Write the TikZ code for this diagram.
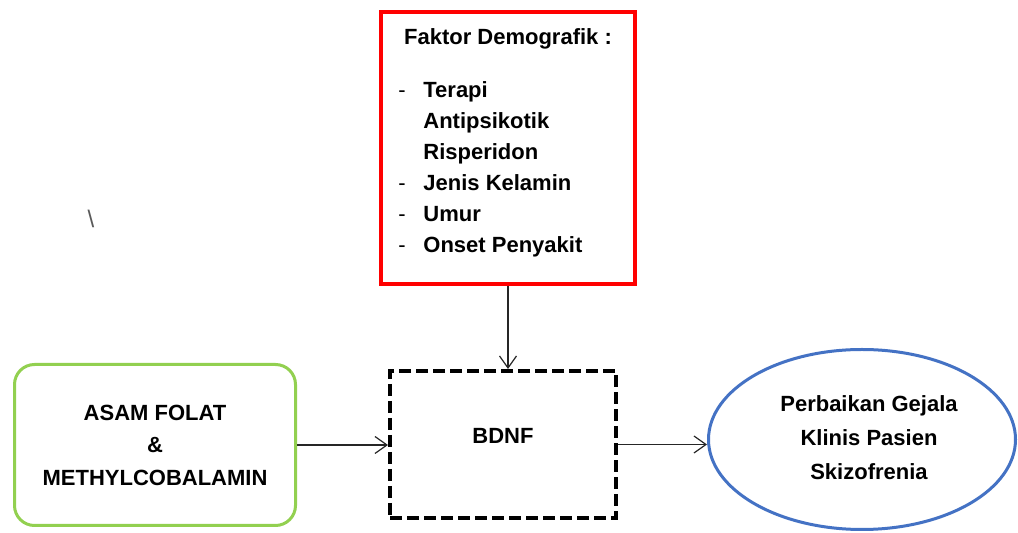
\documentclass[tikz,border=0pt]{standalone}
\usepackage{fontspec}
\setmainfont{Liberation Sans}
\usetikzlibrary{shapes.geometric,arrows.meta}
\definecolor{merah}{RGB}{255,0,0}
\definecolor{hijau}{RGB}{146,208,80}
\definecolor{biru}{RGB}{68,114,196}
\begin{document}
\begin{tikzpicture}
        [x=0.5pt, y=-0.5pt,
        kotakMerah/.style={rectangle, draw=merah, line width=2pt, minimum width=127pt, minimum height=136pt, inner sep=0pt},
        kotakHijau/.style={rectangle, rounded corners=10pt, draw=hijau, line width=1.5pt, minimum width=140.5pt, minimum height=80.5pt, align=center, font=\bfseries\fontsize{11}{16.25}\selectfont},
        kotakPutus/.style={rectangle, draw, line width=2pt, dash pattern=on 6pt off 2.5pt, minimum width=113pt, minimum height=73.5pt, inner sep=0pt},
        elips/.style={ellipse, draw=biru, line width=1.5pt, minimum width=153.5pt, minimum height=90pt, inner sep=0pt},
        teks/.style={font=\bfseries\fontsize{11}{15.5}\selectfont, inner sep=0pt},
        panah/.style={-{Straight Barb[length=6pt,width=8.5pt]}, line width=0.6pt, black!85}]
        \useasboundingbox (0,0) rectangle (1018,533);

        \node[kotakMerah] (faktor) at (508,148) {};
        \node[teks, anchor=base] (judul) at (508,45) {Faktor Demografik :};
        \node[teks, anchor=north west] (daftar) at (398,75.3) {%
            \begin{tabular}{@{}p{12.5pt}@{}l@{}}
            {\mdseries -} & Terapi\\
                          & Antipsikotik\\
                          & Risperidon\\
            {\mdseries -} & Jenis Kelamin\\
            {\mdseries -} & Umur\\
            {\mdseries -} & Onset Penyakit
            \end{tabular}};
        \node[font=\fontsize{12}{14}\selectfont, text=black!65, inner sep=0pt] (garis) at (91,219) {\textbackslash};

        \node[kotakHijau] (asam) at (155,445) {ASAM FOLAT\\ \&\\ METHYLCOBALAMIN};
        \node[kotakPutus] (bdnf) at (503,444.5) {};
        \node[teks] (teksBdnf) at (503,436) {BDNF};
        \node[elips] (hasil) at (862,439.5) {};
        \node[teks, align=center, font=\bfseries\fontsize{11}{17}\selectfont] (teksHasil) at (869,438) {Perbaikan Gejala\\ Klinis Pasien\\ Skizofrenia};

        \draw[panah] (faktor.south) -- (faktor.south |- bdnf.north);
        \draw[panah] (asam.east) -- (asam.east -| bdnf.west);
        \draw[panah] (bdnf.east) -- (bdnf.east -| hasil.west);

    \end{tikzpicture}
\end{document}
